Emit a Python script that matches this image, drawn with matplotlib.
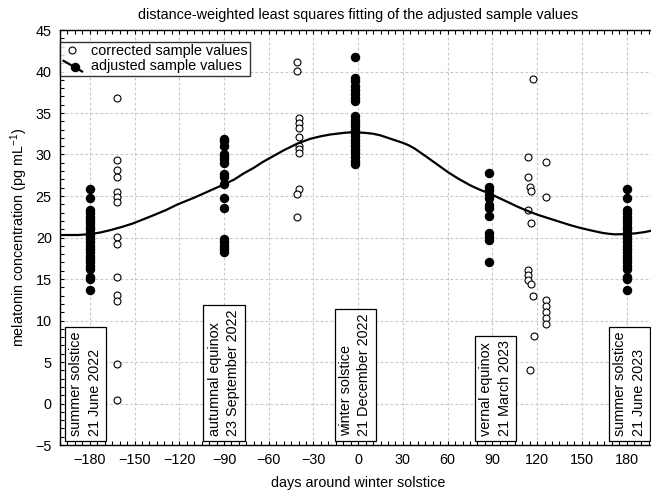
import matplotlib
matplotlib.use("Agg")
import matplotlib.pyplot as plt
from matplotlib.lines import Line2D
from matplotlib.legend_handler import HandlerBase
from matplotlib.ticker import MultipleLocator

plt.rcParams["font.family"] = ["Liberation Sans", "DejaVu Sans"]
plt.rcParams["font.size"] = 10.4

# ---- adjusted sample values (filled markers) ----
adj_summer22_day = -180
adj_summer22 = [25.9, 24.7, 23.3, 22.9, 22.5, 22.1, 21.7, 21.3, 21.0, 20.6, 20.2,
                19.8, 19.4, 19.0, 18.6, 18.2, 17.8, 17.4, 17.0, 16.6, 16.2,
                15.3, 15.0, 13.7]
adj_autumn_day = -90
adj_autumn = [31.9, 31.6, 31.0, 30.1, 29.8, 29.4, 29.0, 27.7, 27.3, 26.4, 24.7,
              23.5, 19.8, 19.4, 19.0, 18.6, 18.2]
adj_winter_day = -2
adj_winter = [41.8, 39.2, 38.8, 38.3, 37.8, 37.3, 36.8, 36.4, 34.6, 34.2, 33.8,
              33.4, 33.0, 32.6, 32.2, 31.8, 31.4, 31.0, 30.6, 30.2, 29.7, 29.2,
              28.8]
adj_spring_day = 88
adj_spring = [27.8, 26.1, 25.7, 25.1, 24.7, 23.9, 23.5, 22.6, 20.5, 20.1, 19.7,
              17.1]
adj_summer23_day = 180
adj_summer23 = [25.9, 24.7, 23.3, 22.9, 22.5, 22.1, 21.7, 21.3, 21.0, 20.6, 20.2,
                19.8, 19.4, 19.0, 18.6, 18.2, 17.8, 17.4, 17.0, 16.6, 16.2,
                15.3, 15.0, 13.7]

# ---- corrected sample values (open markers) ----
cor_a_days = [-162] * 14
cor_a = [36.8, 29.3, 28.1, 27.3, 25.5, 24.9, 24.3, 20.1, 19.2, 15.3, 13.1, 12.3,
         4.8, 0.4]
cor_b_days = [-41, -41, -40, -40, -40, -40, -40, -40, -40, -40, -41, -41]
cor_b = [41.1, 40.1, 34.4, 33.8, 33.2, 32.1, 31.0, 30.7, 30.2, 25.9, 25.3, 22.5]
cor_c_days = [117, 114, 114, 115, 116, 114, 116, 114, 114, 114, 116, 117, 118, 115]
cor_c = [39.1, 29.7, 27.3, 26.1, 25.6, 23.3, 21.8, 16.1, 15.5, 14.9, 14.4, 13.0,
         8.1, 4.0]
cor_d_days = [126] * 7
cor_d = [29.1, 24.9, 12.5, 11.7, 11.0, 10.3, 9.6]

# ---- distance-weighted least squares fit ----
fit_days = [-200, -188, -180, -173, -166, -158, -151, -144, -137, -129, -121,
            -110, -100, -90, -83, -77, -70, -64, -57, -50, -41, -32, -25, -19,
            -10, -3, 5, 10, 15, 20, 25, 30, 34, 38, 42, 46, 53, 60, 67, 75, 81,
            88, 94, 100, 107, 115, 121, 128, 135, 142, 148, 155, 160, 164, 168,
            172, 178, 186, 192, 196, 200]
fit_vals = [20.3, 20.3, 20.4, 20.6, 20.9, 21.3, 21.7, 22.2, 22.7, 23.3, 24.0,
            24.8, 25.6, 26.4, 27.0, 27.7, 28.4, 29.1, 29.8, 30.5, 31.3, 31.9,
            32.2, 32.4, 32.6, 32.7, 32.6, 32.5, 32.3, 32.0, 31.7, 31.4, 31.1,
            30.7, 30.2, 29.7, 28.8, 27.9, 27.1, 26.3, 25.8, 25.3, 24.8, 24.3,
            23.7, 23.1, 22.7, 22.3, 21.9, 21.5, 21.2, 20.9, 20.7, 20.55, 20.45,
            20.38, 20.4, 20.5, 20.65, 20.8, 20.9]

# ---- event labels ----
event_days = [-183, -90, -2, 92, 182]
event_texts = ["summer solstice\n21 June 2022",
               "autumnal equinox\n23 September 2022",
               "winter solstice\n21 December 2022",
               "vernal equinox\n21 March 2023",
               "summer solstice\n21 June 2023"]

W, H = 651, 494
fig = plt.figure(figsize=(W / 100, H / 100), dpi=100)
ax_left, ax_right, ax_top, ax_bottom = 60, 656.4, 30, 445
ax = fig.add_axes([ax_left / W, 1 - ax_bottom / H,
                   (ax_right - ax_left) / W, (ax_bottom - ax_top) / H])

ax.set_xlim(-200, 200)
ax.set_ylim(-5, 45)

ax.grid(True, which="major", color="#c8c8c8", linestyle=(0, (2.5, 2)), lw=0.8)
ax.set_axisbelow(True)

filled_kw = dict(marker="o", ms=5.8, mfc="black", mec="black", ls="none",
                 zorder=3)
open_kw = dict(marker="o", ms=5.0, mfc="white", mec="black", mew=0.8,
               ls="none", zorder=3)

for d, vals in [(adj_summer22_day, adj_summer22), (adj_autumn_day, adj_autumn),
                (adj_winter_day, adj_winter), (adj_spring_day, adj_spring),
                (adj_summer23_day, adj_summer23)]:
    ax.plot([d] * len(vals), vals, **filled_kw)

for ds, vals in [(cor_a_days, cor_a), (cor_b_days, cor_b),
                 (cor_c_days, cor_c), (cor_d_days, cor_d)]:
    ax.plot(ds, vals, **open_kw)

ax.plot(fit_days, fit_vals, color="black", lw=1.6, zorder=4,
        solid_joinstyle="round", solid_capstyle="round")

for d, t in zip(event_days, event_texts):
    ax.text(d, -3.95, t, rotation=90, ha="center", va="bottom",
            multialignment="left", linespacing=1.4, zorder=5,
            bbox=dict(boxstyle="square,pad=0.3", fc="white", ec="black",
                      lw=0.9))

ax.xaxis.set_major_locator(MultipleLocator(30))
ax.xaxis.set_minor_locator(MultipleLocator(5))
ax.yaxis.set_major_locator(MultipleLocator(5))
ax.yaxis.set_minor_locator(MultipleLocator(1))
ax.set_xticks(range(-180, 181, 30))
ax.tick_params(which="both", direction="in", top=True, right=False,
               length=3, width=0.8, labelsize=10.4)
ax.tick_params(which="major", pad=6)
for s in ["left", "bottom", "top"]:
    ax.spines[s].set_linewidth(1.0)
ax.spines["right"].set_visible(False)

ax.set_xlabel("days around winter solstice", labelpad=6)
ax.set_ylabel("melatonin concentration (pg mL$^{\\mathregular{-1}}$)",
              labelpad=4)
ax.set_title("distance-weighted least squares fitting of the adjusted sample values",
             fontsize=10.4, pad=8)


class SlantHandler(HandlerBase):
    """Legend key: a short descending line with a filled marker on it."""

    def create_artists(self, legend, orig_handle, xdescent, ydescent,
                       width, height, fontsize, trans):
        x0, x1 = -xdescent + 0.05 * width, -xdescent + 1.0 * width
        y0, y1 = -ydescent - 0.1 * height, -ydescent + 0.95 * height
        ln = Line2D([x0, x1], [y1, y0], color="black", lw=1.6, transform=trans)
        mk = Line2D([(x0 + x1) / 2 + 0.1 * width], [(y0 + y1) / 2 - 0.05 * height],
                    marker="o", ms=5.8, mfc="black", mec="black", ls="none",
                    transform=trans)
        return [ln, mk]


h_open = Line2D([], [], **{k: v for k, v in open_kw.items() if k != "zorder"})
h_adj = Line2D([], [], color="black")
leg = ax.legend([h_open, h_adj],
                ["corrected sample values", "adjusted sample values"],
                handler_map={h_adj: SlantHandler()},
                loc="upper left", bbox_to_anchor=(0.0, 1 - 11.7 / 415),
                borderaxespad=0, frameon=True, fancybox=False,
                handlelength=1.35, handletextpad=0.6, borderpad=0.18,
                labelspacing=0.08, fontsize=10.4)
leg.get_frame().set_edgecolor("black")
leg.get_frame().set_linewidth(1.0)
leg.set_zorder(6)

fig.savefig("out.png", dpi=100)
